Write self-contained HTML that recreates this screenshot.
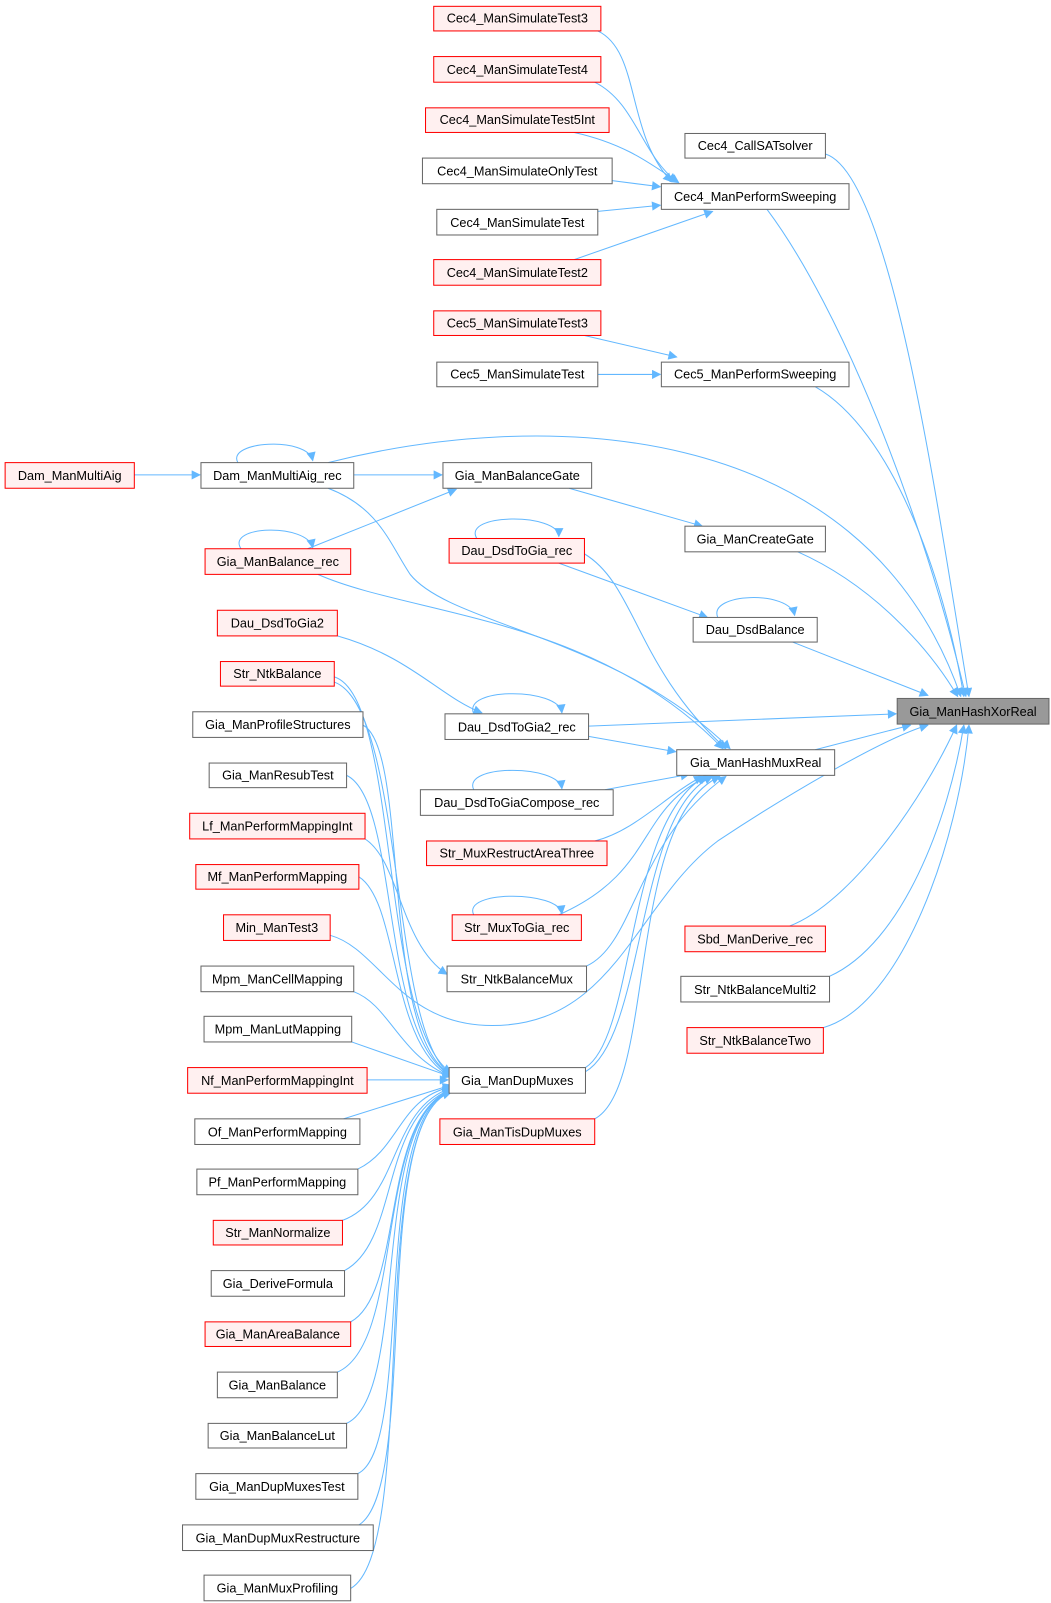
<!DOCTYPE html>
<html><head><meta charset="utf-8"><style>
html,body{margin:0;padding:0;background:#fff;}
svg{display:block}
text{font-family:"Liberation Sans",Arial,sans-serif;font-size:12.4px;fill:#000;text-anchor:middle}
.n rect{fill:#fff;stroke:#666;stroke-width:1}
.r rect{fill:#fff0f0;stroke:#ff0000;stroke-width:1}
.g rect{fill:#999;stroke:#666;stroke-width:1}
path.e{fill:none;stroke:#63b8ff;stroke-width:1;marker-end:url(#a)}
</style></head><body>
<svg width="1051" height="1603" viewBox="0 0 1025 1563" xmlns="http://www.w3.org/2000/svg">
<defs><marker id="a" viewBox="0 0 10 10" refX="9" refY="5" markerWidth="12" markerHeight="9" markerUnits="userSpaceOnUse" orient="auto"><path d="M0,0 L10,5 L0,10 z" fill="#63b8ff"/></marker></defs>

<!-- edges -->
<path class="e" d="M583,30 C625,50 610,130 655,177"/>
<path class="e" d="M580,80 C620,100 625,150 660,177"/>
<path class="e" d="M560,129 C610,140 635,160 662,178"/>
<path class="e" d="M597,176 L644,182"/>
<path class="e" d="M583,206 L644,200"/>
<path class="e" d="M560,253 L695,206"/>
<path class="e" d="M570,327 L660,348"/>
<path class="e" d="M583,365 L644,365"/>
<path class="e" d="M805,150 C870,170 915,500 945,679"/>
<path class="e" d="M748,204 C820,300 900,500 942,679"/>
<path class="e" d="M795,377 C870,420 920,560 940,679"/>
<path class="e" d="M320,451 C520,400 840,400 937,679"/>
<path class="e" d="M778,538 C850,570 905,630 934,679"/>
<path class="e" d="M773,626 L905,678"/>
<path class="e" d="M574,708 L874,696"/>
<path class="e" d="M795,731 L888,707"/>
<path class="e" d="M770,903 C830,880 900,780 933,707"/>
<path class="e" d="M809,952 C880,920 925,800 940,707"/>
<path class="e" d="M803,1002 C880,980 935,820 945,707"/>
<path class="e" d="M322,912 C370,925 390,1000 480,1000 C600,1000 620,880 700,820 C760,780 860,720 905,707"/>
<path class="e" d="M131,463 L195,463"/>
<path class="e" d="M232,451 C220,430 300,425 305,449"/>
<path class="e" d="M345,463 L431,463"/>
<path class="e" d="M300,535 L445,477"/>
<path class="e" d="M235,535 C220,512 300,510 305,534"/>
<path class="e" d="M555,476 L685,513"/>
<path class="e" d="M465,525 C450,500 545,500 545,523"/>
<path class="e" d="M545,549 L690,602"/>
<path class="e" d="M570,540 C620,570 620,650 708,730"/>
<path class="e" d="M700,602 C690,578 770,575 775,600"/>
<path class="e" d="M320,476 C370,495 380,530 400,560 C440,610 600,620 712,730"/>
<path class="e" d="M310,560 C400,600 580,600 705,730"/>
<path class="e" d="M329,620 C400,640 430,680 470,695"/>
<path class="e" d="M462,696 C450,670 545,670 548,695"/>
<path class="e" d="M574,718 L659,733"/>
<path class="e" d="M462,770 C450,745 545,745 548,769"/>
<path class="e" d="M590,770 L672,755"/>
<path class="e" d="M580,820 C620,810 650,775 685,757"/>
<path class="e" d="M545,892 C640,850 620,790 690,757"/>
<path class="e" d="M462,892 C450,868 545,868 548,891"/>
<path class="e" d="M572,942 C620,920 620,820 708,757"/>
<path class="e" d="M356,818 C390,840 390,920 436,950"/>
<path class="e" d="M571,1041 C620,1010 610,800 688,757"/>
<path class="e" d="M571,1045 C630,1010 620,790 695,757"/>
<path class="e" d="M580,1091 C640,1060 610,800 702,757"/>
<!-- left column into DupMuxes -->
<path class="e" d="M326,660 C390,680 370,1000 440,1046"/>
<path class="e" d="M326,665 C395,690 380,1010 440,1048"/>
<path class="e" d="M354,707 C400,730 370,1010 440,1048"/>
<path class="e" d="M338,756 C390,780 370,1010 440,1049"/>
<path class="e" d="M350,855 C390,880 380,1020 440,1050"/>
<path class="e" d="M345,967 C380,980 390,1030 440,1050"/>
<path class="e" d="M343,1016 L440,1050"/>
<path class="e" d="M358,1053 L437,1053"/>
<path class="e" d="M335,1091 L440,1058"/>
<path class="e" d="M349,1140 C390,1120 390,1070 440,1060"/>
<path class="e" d="M334,1190 C390,1170 380,1080 440,1061"/>
<path class="e" d="M336,1239 C390,1210 370,1090 440,1062"/>
<path class="e" d="M342,1289 C395,1260 370,1090 440,1063"/>
<path class="e" d="M329,1338 C395,1310 365,1090 440,1063"/>
<path class="e" d="M338,1388 C400,1360 360,1090 440,1064"/>
<path class="e" d="M349,1437 C405,1410 360,1090 440,1064"/>
<path class="e" d="M350,1487 C410,1450 360,1090 440,1065"/>
<path class="e" d="M342,1549 C410,1510 355,1090 440,1065"/>

<!-- nodes -->
<g class="g"><rect x="875" y="681" width="148" height="25"/><text x="949" y="698">Gia_ManHashXorReal</text></g>
<g class="n"><rect x="668" y="130" width="137" height="24"/><text x="736.5" y="146">Cec4_CallSATsolver</text></g>
<g class="n"><rect x="645" y="179" width="183" height="25"/><text x="736.5" y="196">Cec4_ManPerformSweeping</text></g>
<g class="n"><rect x="645" y="353" width="183" height="24"/><text x="736.5" y="369">Cec5_ManPerformSweeping</text></g>
<g class="n"><rect x="668" y="513" width="137" height="25"/><text x="736.5" y="530">Gia_ManCreateGate</text></g>
<g class="n"><rect x="676" y="602" width="121" height="24"/><text x="736.5" y="618">Dau_DsdBalance</text></g>
<g class="n"><rect x="660" y="731" width="154" height="25"/><text x="737" y="748">Gia_ManHashMuxReal</text></g>
<g class="r"><rect x="668" y="903" width="137" height="25"/><text x="736.5" y="920">Sbd_ManDerive_rec</text></g>
<g class="n"><rect x="664" y="952" width="145" height="25"/><text x="736.5" y="969">Str_NtkBalanceMulti2</text></g>
<g class="r"><rect x="670" y="1002" width="133" height="25"/><text x="736.5" y="1019">Str_NtkBalanceTwo</text></g>

<g class="r"><rect x="423" y="6" width="163" height="24"/><text x="504.5" y="22">Cec4_ManSimulateTest3</text></g>
<g class="r"><rect x="423" y="55" width="163" height="25"/><text x="504.5" y="72">Cec4_ManSimulateTest4</text></g>
<g class="r"><rect x="415" y="105" width="179" height="24"/><text x="504.5" y="121">Cec4_ManSimulateTest5Int</text></g>
<g class="n"><rect x="412" y="154" width="185" height="25"/><text x="504.5" y="171">Cec4_ManSimulateOnlyTest</text></g>
<g class="n"><rect x="426" y="204" width="157" height="25"/><text x="504.5" y="221">Cec4_ManSimulateTest</text></g>
<g class="r"><rect x="423" y="253" width="163" height="25"/><text x="504.5" y="270">Cec4_ManSimulateTest2</text></g>
<g class="r"><rect x="423" y="303" width="163" height="24"/><text x="504.5" y="319">Cec5_ManSimulateTest3</text></g>
<g class="n"><rect x="426" y="353" width="157" height="24"/><text x="504.5" y="369">Cec5_ManSimulateTest</text></g>
<g class="n"><rect x="432" y="451" width="145" height="25"/><text x="504.5" y="468">Gia_ManBalanceGate</text></g>
<g class="r"><rect x="438" y="525" width="132" height="24"/><text x="504" y="541">Dau_DsdToGia_rec</text></g>
<g class="n"><rect x="434" y="696" width="140" height="25"/><text x="504" y="713">Dau_DsdToGia2_rec</text></g>
<g class="n"><rect x="410" y="770" width="188" height="25"/><text x="504" y="787">Dau_DsdToGiaCompose_rec</text></g>
<g class="r"><rect x="416" y="820" width="176" height="24"/><text x="504" y="836">Str_MuxRestructAreaThree</text></g>
<g class="r"><rect x="441" y="892" width="126" height="25"/><text x="504" y="909">Str_MuxToGia_rec</text></g>
<g class="n"><rect x="436" y="942" width="136" height="25"/><text x="504" y="959">Str_NtkBalanceMux</text></g>
<g class="n"><rect x="438" y="1041" width="133" height="25"/><text x="504.5" y="1058">Gia_ManDupMuxes</text></g>
<g class="r"><rect x="429" y="1091" width="151" height="25"/><text x="504.5" y="1108">Gia_ManTisDupMuxes</text></g>

<g class="r"><rect x="5" y="451" width="126" height="25"/><text x="68" y="468">Dam_ManMultiAig</text></g>
<g class="n"><rect x="196" y="451" width="149" height="25"/><text x="270.5" y="468">Dam_ManMultiAig_rec</text></g>
<g class="r"><rect x="200" y="535" width="142" height="25"/><text x="271" y="552">Gia_ManBalance_rec</text></g>
<g class="r"><rect x="212" y="595" width="117" height="25"/><text x="270.5" y="612">Dau_DsdToGia2</text></g>
<g class="r"><rect x="215" y="645" width="111" height="24"/><text x="270.5" y="661">Str_NtkBalance</text></g>
<g class="n"><rect x="188" y="694" width="166" height="25"/><text x="271" y="711">Gia_ManProfileStructures</text></g>
<g class="n"><rect x="204" y="744" width="134" height="24"/><text x="271" y="760">Gia_ManResubTest</text></g>
<g class="r"><rect x="185" y="793" width="171" height="25"/><text x="270.5" y="810">Lf_ManPerformMappingInt</text></g>
<g class="r"><rect x="191" y="843" width="159" height="24"/><text x="270.5" y="859">Mf_ManPerformMapping</text></g>
<g class="r"><rect x="218" y="892" width="104" height="25"/><text x="270" y="909">Min_ManTest3</text></g>
<g class="n"><rect x="196" y="942" width="149" height="25"/><text x="270.5" y="959">Mpm_ManCellMapping</text></g>
<g class="n"><rect x="199" y="991" width="144" height="25"/><text x="271" y="1008">Mpm_ManLutMapping</text></g>
<g class="r"><rect x="183" y="1041" width="175" height="25"/><text x="270.5" y="1058">Nf_ManPerformMappingInt</text></g>
<g class="n"><rect x="190" y="1091" width="161" height="25"/><text x="270.5" y="1108">Of_ManPerformMapping</text></g>
<g class="n"><rect x="192" y="1140" width="157" height="25"/><text x="270.5" y="1157">Pf_ManPerformMapping</text></g>
<g class="r"><rect x="208" y="1190" width="126" height="24"/><text x="271" y="1206">Str_ManNormalize</text></g>
<g class="n"><rect x="206" y="1239" width="130" height="25"/><text x="271" y="1256">Gia_DeriveFormula</text></g>
<g class="r"><rect x="200" y="1289" width="142" height="24"/><text x="271" y="1305">Gia_ManAreaBalance</text></g>
<g class="n"><rect x="212" y="1338" width="117" height="25"/><text x="270.5" y="1355">Gia_ManBalance</text></g>
<g class="n"><rect x="203" y="1388" width="135" height="24"/><text x="270.5" y="1404">Gia_ManBalanceLut</text></g>
<g class="n"><rect x="191" y="1437" width="158" height="25"/><text x="270" y="1454">Gia_ManDupMuxesTest</text></g>
<g class="n"><rect x="178" y="1487" width="186" height="25"/><text x="271" y="1504">Gia_ManDupMuxRestructure</text></g>
<g class="n"><rect x="199" y="1536" width="143" height="25"/><text x="270.5" y="1553">Gia_ManMuxProfiling</text></g>
</svg>
</body></html>
